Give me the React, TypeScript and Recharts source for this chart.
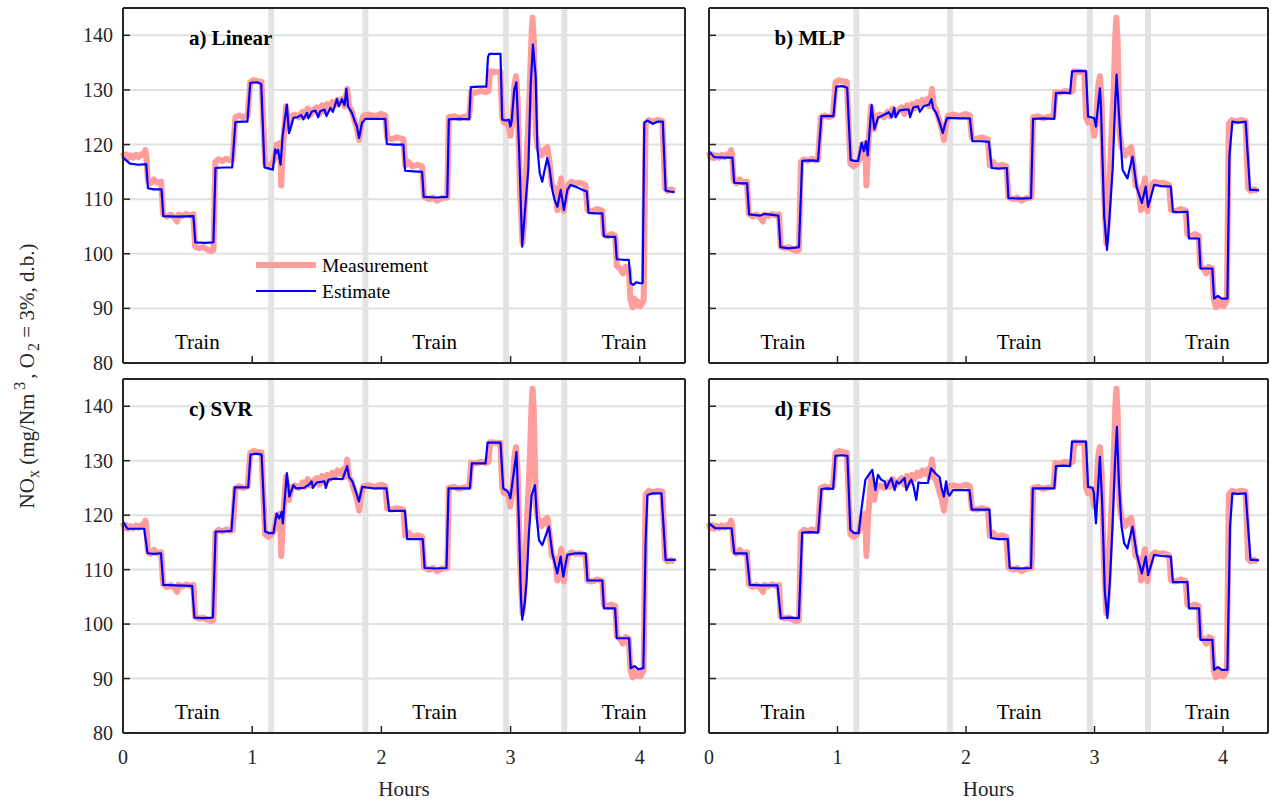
import React from "react";
import { CartesianGrid, Legend, Line, LineChart, ReferenceDot, ReferenceLine, XAxis, YAxis } from "recharts";

const FONT = '"Liberation Serif", "Times New Roman", serif';
const INK = "#262626";
const GRID = "#e0e0e0";
const BAND = "#e3e3e3";
const PINK = "#ff9c9c";
const BLUE = "#0000ff";

const hourTicks = [0, 1, 2, 3, 4];
const noxTicks = [80, 90, 100, 110, 120, 130, 140];
const splitHours = [1.147, 1.876, 2.964, 3.416];
const trainHours = [0.575, 2.413, 3.878];

// [hours, NOx]
const measured: [number, number][] = [
  [0.0, 118.6], [0.01, 117.6], [0.025, 118.2], [0.04, 117.5], [0.06, 118.0], [0.08, 117.6], [0.1, 118.1], [0.12, 117.7], [0.14, 118.2], [0.16, 118.0], [0.172, 119.0], [0.18, 118.2],
  [0.192, 113.4], [0.215, 112.9], [0.24, 113.6], [0.265, 113.0], [0.295, 113.2],
  [0.31, 107.3], [0.34, 106.8], [0.37, 107.2], [0.4, 106.6], [0.42, 105.9], [0.43, 107.2], [0.46, 106.9], [0.49, 107.3], [0.52, 107.0], [0.545, 107.2],
  [0.558, 101.3], [0.59, 101.0], [0.62, 101.2], [0.65, 100.8], [0.68, 100.5], [0.7, 100.7],
  [0.715, 116.8], [0.74, 117.3], [0.77, 117.0], [0.8, 117.4], [0.83, 117.1], [0.848, 117.2],
  [0.87, 125.0], [0.9, 125.3], [0.93, 125.0], [0.965, 125.3],
  [0.985, 131.4], [1.01, 131.8], [1.04, 131.6], [1.072, 131.5],
  [1.1, 116.5], [1.125, 116.0], [1.15, 116.4], [1.17, 117.2], [1.19, 120.0], [1.205, 118.3], [1.215, 120.3], [1.225, 112.5], [1.238, 119.5], [1.262, 127.0], [1.285, 122.8], [1.305, 125.2],
  [1.33, 125.5], [1.36, 125.0], [1.39, 126.0], [1.41, 125.2], [1.43, 126.6], [1.45, 125.4], [1.48, 126.4], [1.5, 126.8], [1.52, 125.6], [1.54, 127.2], [1.56, 126.0], [1.58, 127.4], [1.6, 126.6], [1.62, 127.8], [1.64, 127.2], [1.66, 128.2], [1.68, 127.6], [1.7, 128.4], [1.715, 127.0], [1.735, 130.2], [1.75, 127.0], [1.77, 126.2], [1.79, 124.5], [1.81, 123.0], [1.828, 120.8], [1.845, 123.8], [1.86, 125.3],
  [1.9, 125.5], [1.95, 125.2], [2.0, 125.6], [2.03, 125.3],
  [2.045, 121.2], [2.08, 121.0], [2.12, 121.3], [2.17, 121.0],
  [2.185, 116.2], [2.21, 116.8], [2.24, 116.0], [2.28, 116.3], [2.315, 116.0],
  [2.33, 110.4], [2.37, 110.0], [2.4, 110.3], [2.43, 109.7], [2.47, 110.2], [2.51, 110.3],
  [2.522, 125.0], [2.56, 125.2], [2.6, 124.8], [2.64, 125.1], [2.68, 125.2],
  [2.695, 129.6], [2.73, 129.5], [2.77, 129.8], [2.81, 129.6], [2.83, 129.8],
  [2.842, 133.4], [2.88, 133.3], [2.92, 133.3],
  [2.935, 125.0], [2.95, 124.0], [2.97, 124.3], [2.985, 123.5], [2.998, 121.6], [3.012, 124.0],
  [3.03, 131.0], [3.042, 132.5], [3.055, 128.0], [3.072, 112.0], [3.092, 102.0], [3.105, 106.0], [3.125, 118.0], [3.145, 128.0], [3.162, 140.0], [3.17, 143.2], [3.18, 139.0], [3.195, 122.0],
  [3.21, 119.5], [3.24, 118.0], [3.26, 119.0], [3.285, 119.5], [3.3, 117.0], [3.32, 112.5], [3.345, 112.0], [3.362, 108.0], [3.38, 112.0], [3.392, 113.8], [3.402, 109.5], [3.412, 107.8], [3.425, 110.5], [3.445, 112.6],
  [3.47, 113.2], [3.5, 112.9], [3.54, 113.0], [3.58, 112.6],
  [3.595, 108.0], [3.63, 107.8], [3.67, 108.2], [3.71, 107.9],
  [3.722, 103.6], [3.75, 103.2], [3.78, 103.6], [3.81, 103.3],
  [3.822, 97.8], [3.85, 97.2], [3.87, 96.4], [3.89, 97.6], [3.915, 97.3],
  [3.928, 91.5], [3.945, 90.2], [3.96, 91.8], [3.975, 90.5], [3.99, 91.2], [4.005, 90.4], [4.02, 91.0], [4.03, 91.5],
  [4.045, 123.8], [4.07, 124.5], [4.1, 124.2], [4.14, 124.5], [4.175, 124.3],
  [4.195, 112.0], [4.215, 111.5], [4.24, 111.8], [4.27, 111.5],
];

const linear: [number, number][] = [
  [0.0, 117.6], [0.054, 116.5], [0.12, 116.3], [0.18, 116.4],
  [0.193, 112.0], [0.24, 111.8], [0.298, 111.8],
  [0.312, 106.9], [0.42, 106.8], [0.545, 106.9],
  [0.56, 102.1], [0.63, 102.0], [0.7, 102.1],
  [0.716, 115.7], [0.78, 115.8], [0.845, 115.8],
  [0.87, 124.1], [0.92, 124.2], [0.963, 124.2],
  [0.985, 131.3], [1.04, 131.4], [1.07, 131.1],
  [1.095, 115.8], [1.13, 115.6], [1.16, 115.4], [1.178, 119.1], [1.19, 118.5], [1.2, 119.0], [1.22, 116.3], [1.235, 121.5], [1.268, 127.3], [1.285, 122.1], [1.32, 124.9],
  [1.35, 125.0], [1.38, 125.4], [1.395, 124.6], [1.424, 125.8], [1.435, 124.8], [1.46, 126.0], [1.49, 126.2], [1.51, 125.0], [1.527, 126.1], [1.56, 126.4], [1.575, 125.2], [1.605, 126.7], [1.625, 126.0], [1.656, 128.3], [1.67, 127.0], [1.695, 128.3], [1.715, 127.2], [1.729, 130.2], [1.742, 127.0], [1.772, 125.8], [1.795, 124.2], [1.81, 123.4], [1.827, 121.2], [1.85, 124.0], [1.876, 124.7],
  [1.95, 124.7], [2.03, 124.7],
  [2.042, 120.1], [2.1, 120.0], [2.17, 120.0],
  [2.183, 115.2], [2.25, 115.1], [2.315, 115.0],
  [2.328, 110.4], [2.42, 110.3], [2.51, 110.4],
  [2.522, 124.6], [2.6, 124.7], [2.68, 124.6],
  [2.692, 130.5], [2.76, 130.6], [2.812, 130.6],
  [2.825, 136.0], [2.835, 136.6], [2.922, 136.6],
  [2.935, 124.6], [2.96, 124.4], [2.988, 124.5], [2.998, 123.3], [3.008, 124.2], [3.028, 130.0], [3.045, 131.4],
  [3.065, 119.6], [3.09, 101.3], [3.116, 109.3], [3.137, 115.4], [3.155, 130.6], [3.173, 138.3], [3.194, 132.5], [3.207, 119.6], [3.225, 114.8], [3.245, 113.2], [3.265, 115.5], [3.284, 117.5], [3.3, 115.9], [3.323, 111.7], [3.34, 109.9], [3.362, 108.6], [3.388, 111.7], [3.413, 108.0], [3.439, 111.7], [3.465, 112.6],
  [3.5, 112.3], [3.556, 111.7], [3.59, 111.4],
  [3.603, 107.5], [3.65, 107.4], [3.71, 107.4],
  [3.722, 103.2], [3.77, 103.1], [3.81, 103.1],
  [3.822, 99.0], [3.87, 98.9], [3.915, 98.9],
  [3.93, 94.6], [3.95, 94.3], [3.975, 94.8], [4.0, 94.6], [4.022, 94.6],
  [4.035, 124.0], [4.06, 124.4], [4.1, 123.8], [4.14, 124.2], [4.178, 124.2],
  [4.2, 111.6], [4.23, 111.4], [4.27, 111.3],
];

const mlp: [number, number][] = [
  [0.0, 118.8], [0.04, 117.7], [0.12, 117.6], [0.182, 117.6],
  [0.196, 113.0], [0.25, 112.9], [0.296, 112.9],
  [0.312, 107.2], [0.4, 107.0], [0.43, 107.3], [0.54, 107.0],
  [0.556, 101.2], [0.62, 101.0], [0.7, 101.2],
  [0.725, 117.0], [0.79, 117.1], [0.848, 117.0],
  [0.875, 125.2], [0.92, 125.2], [0.968, 125.2],
  [0.99, 130.6], [1.04, 130.7], [1.075, 130.4],
  [1.102, 117.2], [1.13, 117.0], [1.16, 117.0], [1.188, 120.3], [1.205, 118.8], [1.222, 120.6], [1.235, 118.0], [1.265, 127.2], [1.287, 122.8], [1.315, 124.9],
  [1.36, 125.4], [1.4, 125.9], [1.42, 125.0], [1.442, 126.7], [1.452, 125.0], [1.48, 126.2], [1.52, 126.4], [1.555, 126.4], [1.565, 125.0], [1.59, 126.8], [1.626, 127.0], [1.64, 126.0], [1.67, 127.0], [1.712, 127.3], [1.731, 128.3], [1.745, 126.6], [1.768, 125.8], [1.795, 124.0], [1.82, 122.1], [1.835, 123.6], [1.854, 124.9],
  [1.95, 124.8], [2.03, 124.8],
  [2.05, 120.6], [2.12, 120.6], [2.178, 120.5],
  [2.2, 115.7], [2.25, 115.6], [2.318, 115.7],
  [2.33, 110.2], [2.42, 110.1], [2.506, 110.2],
  [2.522, 124.7], [2.6, 124.8], [2.687, 124.7],
  [2.7, 129.4], [2.76, 129.5], [2.81, 129.4],
  [2.825, 133.4], [2.88, 133.5], [2.934, 133.4],
  [2.95, 125.1], [2.975, 125.0], [2.998, 124.8], [3.011, 123.3], [3.042, 130.3], [3.05, 127.0], [3.075, 107.0], [3.097, 100.7], [3.115, 106.2], [3.141, 115.4], [3.161, 127.6], [3.172, 132.8], [3.193, 124.5], [3.218, 115.4], [3.256, 113.8], [3.296, 117.8], [3.327, 112.3], [3.368, 109.3], [3.399, 112.3], [3.417, 108.6], [3.464, 112.6],
  [3.52, 112.4], [3.594, 112.3],
  [3.61, 107.7], [3.66, 107.6], [3.723, 107.7],
  [3.735, 102.8], [3.78, 102.8], [3.813, 102.8],
  [3.825, 97.3], [3.87, 97.3], [3.917, 97.3],
  [3.93, 91.8], [3.96, 92.3], [3.99, 91.8], [4.034, 91.8],
  [4.05, 118.0], [4.073, 124.2], [4.12, 124.0], [4.176, 124.2],
  [4.21, 111.7], [4.24, 111.7], [4.28, 111.6],
];

const svr: [number, number][] = [
  [0.0, 118.8], [0.034, 117.5], [0.12, 117.5], [0.164, 117.5],
  [0.19, 113.0], [0.24, 112.9], [0.294, 113.0],
  [0.312, 107.2], [0.4, 107.1], [0.535, 107.0],
  [0.553, 101.2], [0.62, 101.1], [0.696, 101.2],
  [0.717, 117.0], [0.78, 117.0], [0.839, 117.1],
  [0.865, 125.1], [0.92, 125.1], [0.969, 125.1],
  [0.987, 131.1], [1.03, 131.3], [1.073, 131.1],
  [1.1, 117.0], [1.13, 116.7], [1.164, 116.7], [1.19, 120.3], [1.21, 119.4], [1.229, 120.6], [1.237, 118.5], [1.268, 127.7], [1.288, 123.4], [1.319, 125.5],
  [1.34, 124.9], [1.4, 125.0], [1.44, 125.6], [1.46, 126.2], [1.47, 125.0], [1.5, 126.0], [1.56, 126.2], [1.57, 125.0], [1.59, 126.5], [1.64, 126.7], [1.7, 126.6], [1.735, 129.0], [1.75, 127.0], [1.775, 126.2], [1.8, 124.5], [1.826, 122.5], [1.852, 125.2],
  [1.95, 124.9], [2.039, 124.9],
  [2.06, 120.8], [2.12, 120.8], [2.182, 120.8],
  [2.2, 115.6], [2.26, 115.6], [2.32, 115.6],
  [2.335, 110.3], [2.42, 110.2], [2.504, 110.3],
  [2.52, 124.9], [2.6, 124.9], [2.685, 124.9],
  [2.7, 129.5], [2.76, 129.5], [2.806, 129.5],
  [2.822, 133.3], [2.88, 133.3], [2.922, 133.3],
  [2.943, 124.9], [2.97, 124.5], [2.987, 124.0], [2.998, 123.1], [3.046, 131.6], [3.065, 118.0], [3.08, 105.0], [3.09, 100.8], [3.11, 104.0], [3.124, 108.0], [3.142, 116.7], [3.163, 123.7], [3.189, 125.5], [3.205, 119.0], [3.22, 115.4], [3.245, 114.5], [3.297, 117.9], [3.323, 113.0], [3.361, 109.3], [3.388, 112.4], [3.408, 108.7], [3.439, 112.7],
  [3.5, 113.0], [3.581, 113.0],
  [3.595, 108.0], [3.65, 108.0], [3.71, 108.0],
  [3.722, 102.9], [3.77, 102.9], [3.809, 102.9],
  [3.822, 97.4], [3.87, 97.4], [3.917, 97.4],
  [3.93, 91.9], [3.96, 92.3], [3.99, 91.7], [4.028, 91.9],
  [4.045, 115.0], [4.059, 123.7], [4.1, 124.0], [4.168, 124.0],
  [4.2, 111.8], [4.24, 111.8], [4.279, 111.8],
];

const fis: [number, number][] = [
  [0.0, 118.5], [0.047, 117.6], [0.12, 117.6], [0.176, 117.6],
  [0.197, 113.0], [0.25, 113.0], [0.293, 113.0],
  [0.318, 107.2], [0.4, 107.1], [0.533, 107.1],
  [0.559, 101.1], [0.63, 101.2], [0.699, 101.1],
  [0.725, 116.8], [0.79, 116.9], [0.849, 116.8],
  [0.875, 124.8], [0.92, 124.9], [0.966, 124.8],
  [0.984, 130.9], [1.03, 131.0], [1.077, 130.9],
  [1.1, 117.3], [1.13, 116.7], [1.165, 116.7], [1.186, 121.0], [1.217, 126.5], [1.245, 127.5], [1.271, 128.3], [1.295, 124.6], [1.315, 127.4],
  [1.34, 126.5], [1.367, 126.2], [1.38, 124.9], [1.4, 126.0], [1.419, 126.8], [1.445, 124.6], [1.46, 126.2], [1.48, 125.8], [1.522, 126.8], [1.536, 124.6], [1.56, 126.0], [1.574, 126.5], [1.59, 125.5], [1.613, 122.8], [1.63, 126.0], [1.65, 125.9], [1.703, 125.9], [1.729, 128.6], [1.76, 127.7], [1.794, 127.0], [1.81, 125.0], [1.828, 123.4], [1.845, 126.2], [1.86, 124.0], [1.872, 123.6], [1.898, 124.6],
  [1.96, 124.6], [2.027, 124.6],
  [2.045, 121.0], [2.11, 121.0], [2.182, 121.0],
  [2.195, 115.8], [2.25, 115.6], [2.325, 115.6],
  [2.34, 110.3], [2.42, 110.2], [2.506, 110.3],
  [2.52, 124.9], [2.6, 124.9], [2.687, 124.9],
  [2.7, 129.0], [2.76, 129.1], [2.81, 129.0],
  [2.825, 133.5], [2.88, 133.5], [2.934, 133.5],
  [2.95, 125.2], [2.985, 125.0], [2.995, 124.0], [3.011, 118.5], [3.042, 130.7], [3.06, 122.0], [3.08, 106.0], [3.1, 101.1], [3.12, 108.0], [3.14, 118.0], [3.16, 130.0], [3.174, 136.2], [3.19, 126.0], [3.21, 118.0], [3.231, 114.8], [3.256, 113.9], [3.296, 117.9], [3.327, 113.0], [3.368, 109.3], [3.399, 112.4], [3.417, 109.0], [3.464, 112.7],
  [3.52, 112.5], [3.594, 112.4],
  [3.61, 107.7], [3.66, 107.7], [3.723, 107.7],
  [3.735, 102.9], [3.78, 102.9], [3.813, 102.9],
  [3.825, 97.1], [3.87, 97.1], [3.917, 97.1],
  [3.93, 91.6], [3.96, 92.1], [3.99, 91.6], [4.034, 91.6],
  [4.055, 118.0], [4.073, 124.0], [4.12, 123.9], [4.176, 124.0],
  [4.214, 111.8], [4.24, 111.8], [4.28, 111.7],
];

const toRows = (pts: [number, number][]) => pts.map(([h, v]) => ({ h, v }));
const measuredRows = toRows(measured);

const PAD_L = 50;
const PAD_T = 10;
const PAD_R = 10;

function LegendBox() {
  return (
    <svg width={200} height={56} style={{ display: "block", overflow: "visible" }}>
      <line x1={0} y1={13} x2={60} y2={13} stroke={PINK} strokeWidth={6} />
      <text x={66} y={20} fontFamily={FONT} fontSize={19.5} fill="#000">Measurement</text>
      <line x1={0} y1={39} x2={60} y2={39} stroke={BLUE} strokeWidth={2} />
      <text x={66} y={46} fontFamily={FONT} fontSize={19.5} fill="#000">Estimate</text>
    </svg>
  );
}

type PanelProps = {
  title: string;
  estimate: [number, number][];
  left: number;
  top: number;
  plotWidth: number;
  plotHeight: number;
  bottomRow: boolean;
  leftCol: boolean;
  legend?: boolean;
};

function Panel({ title, estimate, left, top, plotWidth, plotHeight, bottomRow, leftCol, legend }: PanelProps) {
  const xAxisH = bottomRow ? 67 : 10;
  return (
    <div style={{ position: "absolute", left: left - PAD_L, top: top - PAD_T }}>
      <LineChart width={PAD_L + plotWidth + PAD_R} height={PAD_T + plotHeight + xAxisH} margin={{ top: 0, right: 0, bottom: 0, left: 0 }}>
        <CartesianGrid vertical={false} stroke={GRID} strokeWidth={2} />
        {splitHours.map((h) => (
          <ReferenceLine key={h} x={h} stroke={BAND} strokeWidth={6} zIndex={-50} />
        ))}
        <XAxis
          dataKey="h"
          type="number"
          domain={[0, 4.35]}
          ticks={hourTicks}
          height={xAxisH}
          tickSize={0}
          tickMargin={0}
          tickLine={false}
          axisLine={{ stroke: INK, strokeWidth: 2 }}
          tick={(p: any) => (
            <g>
              <line x1={p.x} y1={p.y} x2={p.x} y2={p.y - 7} stroke={INK} strokeWidth={1.5} />
              {bottomRow && (
                <text x={p.x} y={p.y + 31} textAnchor="middle" fontFamily={FONT} fontSize={20} fill={INK}>
                  {p.payload.value}
                </text>
              )}
            </g>
          )}
          label={bottomRow ? { value: "Hours", position: "insideBottom", offset: 4, fill: INK, fontSize: 21, fontFamily: FONT } : undefined}
        />
        <XAxis
          xAxisId="top"
          orientation="top"
          type="number"
          domain={[0, 4.35]}
          ticks={hourTicks}
          height={PAD_T}
          tickSize={0}
          tickMargin={0}
          tickLine={false}
          axisLine={{ stroke: INK, strokeWidth: 2 }}
          tick={(p: any) => <line x1={p.x} y1={p.y} x2={p.x} y2={p.y + 7} stroke={INK} strokeWidth={1.5} />}
        />
        <YAxis
          type="number"
          domain={[80, 145]}
          ticks={noxTicks}
          width={PAD_L}
          allowDataOverflow
          tickSize={0}
          tickMargin={0}
          tickLine={false}
          axisLine={{ stroke: INK, strokeWidth: 2 }}
          tick={(p: any) => (
            <g>
              <line x1={p.x} y1={p.y} x2={p.x + 7} y2={p.y} stroke={INK} strokeWidth={1.5} />
              {leftCol && (
                <text x={p.x - 10} y={p.y + 7} textAnchor="end" fontFamily={FONT} fontSize={20} fill={INK}>
                  {p.payload.value}
                </text>
              )}
            </g>
          )}
        />
        <YAxis
          yAxisId="right"
          orientation="right"
          type="number"
          domain={[80, 145]}
          ticks={noxTicks}
          width={PAD_R}
          tickSize={0}
          tickMargin={0}
          tickLine={false}
          axisLine={{ stroke: INK, strokeWidth: 2 }}
          tick={(p: any) => <line x1={p.x} y1={p.y} x2={p.x - 7} y2={p.y} stroke={INK} strokeWidth={1.5} />}
        />
        <Line data={measuredRows} dataKey="v" name="Measurement" type="linear" stroke={PINK} strokeWidth={6} strokeLinejoin="round" dot={false} isAnimationActive={false} />
        <Line data={toRows(estimate)} dataKey="v" name="Estimate" type="linear" stroke={BLUE} strokeWidth={2.2} strokeLinejoin="round" dot={false} isAnimationActive={false} />
        {trainHours.map((h) => (
          <ReferenceDot
            key={h}
            x={h}
            y={82.6}
            r={1}
            shape={(p: any) => (
              <text x={p.cx} y={p.cy} textAnchor="middle" fontFamily={FONT} fontSize={21} fill="#000">
                Train
              </text>
            )}
          />
        ))}
        <ReferenceDot
          x={0.51}
          y={138.2}
          r={1}
          shape={(p: any) => (
            <text x={p.cx} y={p.cy} fontFamily={FONT} fontSize={21} fontWeight="bold" fill="#000">
              {title}
            </text>
          )}
        />
        {legend && (
          <Legend
            layout="vertical"
            align="center"
            verticalAlign="middle"
            wrapperStyle={{ left: 183, top: 254, width: 200, height: 56, right: "auto", bottom: "auto" }}
            content={() => <LegendBox />}
          />
        )}
      </LineChart>
    </div>
  );
}

export default function App() {
  return (
    <div style={{ position: "absolute", left: 0, top: 0, width: 1271, height: 800, background: "#fff", overflow: "hidden" }}>
      <svg width={60} height={800} style={{ position: "absolute", left: 0, top: 0 }}>
        <text
          transform="translate(34 376) rotate(-90)"
          textAnchor="middle"
          fontFamily={FONT}
          fontSize={21}
          fill={INK}
        >
          NO
          <tspan fontSize={16} dy={5}>x</tspan>
          <tspan dy={-5}> (mg/Nm</tspan>
          <tspan fontSize={16} dx={4} dy={-9}>3</tspan>
          <tspan dx={3} dy={9}>, O</tspan>
          <tspan fontSize={16} dx={2} dy={5}>2</tspan>
          <tspan dy={-5}> = 3%, d.b.)</tspan>
        </text>
      </svg>
      <Panel title="a) Linear" estimate={linear} left={123} top={8} plotWidth={562} plotHeight={355} bottomRow={false} leftCol legend />
      <Panel title="b) MLP" estimate={mlp} left={709} top={8} plotWidth={559} plotHeight={355} bottomRow={false} leftCol={false} />
      <Panel title="c) SVR" estimate={svr} left={123} top={379} plotWidth={562} plotHeight={354} bottomRow leftCol />
      <Panel title="d) FIS" estimate={fis} left={709} top={379} plotWidth={559} plotHeight={354} bottomRow leftCol={false} />
    </div>
  );
}
